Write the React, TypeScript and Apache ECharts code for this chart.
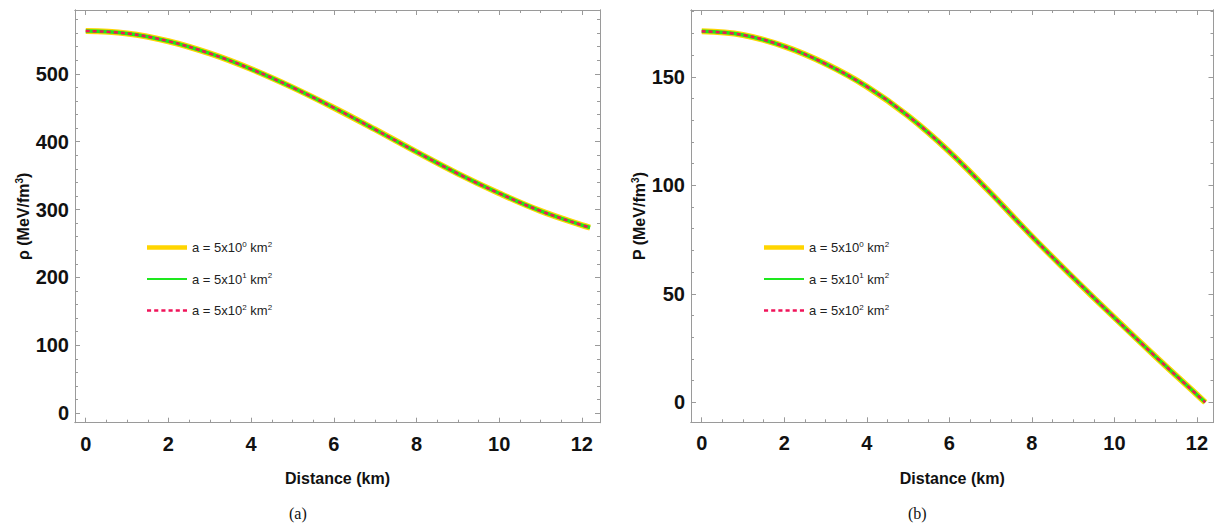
import React, { useEffect, useRef } from "react";
import * as echarts from "echarts";

const distance = [0, 1, 2, 3, 4, 5, 6, 7, 8, 9, 10, 11, 12, 12.2];
const rhoValues = [563, 559.5, 548, 530, 507, 480, 450, 418, 385, 353, 324, 298, 277, 273.5];
const pressureValues = [171, 169.3, 164, 156, 145.5, 132, 115.5, 96.5, 76.5, 57.5, 39, 21, 3.5, 0];

const seriesNames = ["a = 5x10^0 km^2", "a = 5x10^1 km^2", "a = 5x10^2 km^2"];

const xMajor = [0, 2, 4, 6, 8, 10, 12];
const xMinor = [0.5, 1, 1.5, 2.5, 3, 3.5, 4.5, 5, 5.5, 6.5, 7, 7.5, 8.5, 9, 9.5, 10.5, 11, 11.5];
const rhoMajor = [0, 100, 200, 300, 400, 500];
const pMajor = [0, 50, 100, 150];

function minorsOf(major: number[], step: number, lo: number, hi: number) {
  const out: number[] = [];
  for (let v = Math.ceil(lo / step) * step; v <= hi; v += step) {
    const r = Math.round(v * 1000) / 1000;
    if (!major.includes(r)) out.push(r);
  }
  return out;
}

const FRAME = "#9a9a9a";
const LABEL_FONT = "'Liberation Sans Narrow', 'Liberation Sans', Arial, sans-serif";

function axesFor(
  kind: "x" | "y",
  gridIndex: number,
  min: number,
  max: number,
  major: number[],
  minor: number[],
  name: string
) {
  const base = {
    type: "value",
    gridIndex,
    min,
    max,
    splitLine: { show: false },
    axisLine: { show: true, onZero: false, lineStyle: { color: FRAME, width: 1 } },
  };
  const pos1 = kind === "x" ? "bottom" : "left";
  const pos2 = kind === "x" ? "top" : "right";
  const main: any = {
    ...base,
    position: pos1,
    name,
    nameLocation: "middle",
    nameGap: kind === "x" ? 48 : 40,
    nameRotate: kind === "x" ? 0 : 90,
    nameTextStyle: {
      fontFamily: "'Liberation Sans', Arial, sans-serif",
      fontWeight: "bold",
      fontSize: 16,
      color: "#111",
      rich: {
        sup: { fontSize: 10, fontWeight: "bold", verticalAlign: "top", padding: [0, 0, 8, 0], color: "#111" },
      },
    },
    axisTick: { show: true, inside: true, length: 5, customValues: major, lineStyle: { color: FRAME } },
    axisLabel: {
      show: true,
      customValues: major,
      margin: kind === "x" ? 11 : 6,
      fontFamily: LABEL_FONT,
      fontWeight: "bold",
      fontSize: 20,
      color: "#111",
    },
  };
  const mk = (position: string, values: number[], len: number) => ({
    ...base,
    position,
    axisTick: { show: true, inside: true, length: len, customValues: values, lineStyle: { color: FRAME } },
    axisLabel: { show: false },
  });
  return [main, mk(pos1, minor, 3), mk(pos2, major, 5), mk(pos2, minor, 3)];
}

function supify(s: string) {
  return s.replace(/\^(\d)/g, "{sup|$1}");
}

function dashIcon(h: number) {
  let d = "path://";
  for (let x = 0; x < 40; x += 7) d += `M${x},0h4v${h}h-4Z`;
  return d;
}

export default function App() {
  const ref = useRef<HTMLDivElement>(null);
  useEffect(() => {
    document.body.style.margin = "0";
    if (!ref.current) return;
    const chart = echarts.init(ref.current, undefined, { renderer: "svg" });

    const colors = ["#ffd500", "#1ee81e", "#f0145a"];
    const widths = [6, 3.5, 2.5];
    const types: any[] = ["solid", "solid", [4, 3]];
    const legendIcons = ["path://M0,0H40V4.5H0Z", "path://M0,0H40V2.2H0Z", dashIcon(2.2)];

    const mkSeries = (gi: number, values: number[]) =>
      seriesNames.map((nm, i) => ({
        type: "line",
        name: nm,
        xAxisIndex: gi * 4,
        yAxisIndex: gi * 4,
        data: distance.map((d, k) => [d, values[k]]),
        smooth: 0.4,
        symbol: "none",
        showSymbol: false,
        lineStyle: { color: colors[i], width: widths[i], type: types[i] },
        itemStyle: { color: colors[i] },
        z: 2 + i,
      }));

    const mkLegend = (left: number) => ({
      orient: "vertical",
      left,
      top: 235,
      itemWidth: 40,
      itemHeight: 14,
      itemGap: 17.5,
      selectedMode: false,
      data: seriesNames.map((nm, i) => ({
        name: nm,
        icon: legendIcons[i],
        itemStyle: { color: colors[i], borderWidth: 0 },
      })),
      formatter: (n: string) => supify(n),
      textStyle: {
        fontFamily: LABEL_FONT,
        fontSize: 13,
        color: "#222",
        rich: {
          sup: { fontSize: 8, verticalAlign: "top", padding: [0, 0, 7, 0], color: "#222", fontFamily: LABEL_FONT },
        },
      },
    });

    const xAxes = [
      ...axesFor("x", 0, -0.26, 12.44, xMajor, xMinor, "Distance (km)"),
      ...axesFor("x", 1, -0.26, 12.4, xMajor, xMinor, "Distance (km)"),
    ];
    const yAxes = [
      ...axesFor("y", 0, -14, 594, rhoMajor, minorsOf(rhoMajor, 20, -14, 594), "ρ (MeV/fm{sup|3})"),
      ...axesFor("y", 1, -9.2, 180.8, pMajor, minorsOf(pMajor, 10, -9.2, 180.8), "P (MeV/fm{sup|3})"),
    ];

    chart.setOption({
      animation: false,
      backgroundColor: "#ffffff",
      grid: [
        { left: 75, top: 10, width: 525, height: 412.7 },
        { left: 691, top: 10, width: 522.5, height: 412.3 },
      ],
      xAxis: xAxes,
      yAxis: yAxes,
      legend: [mkLegend(142), mkLegend(759)],
      series: [...mkSeries(0, rhoValues), ...mkSeries(1, pressureValues)],
      graphic: [
        {
          type: "text",
          left: 289,
          top: 505,
          style: { text: "(a)", font: "16px 'Liberation Serif', 'Times New Roman', serif", fill: "#111" },
        },
        {
          type: "text",
          left: 908,
          top: 505,
          style: { text: "(b)", font: "16px 'Liberation Serif', 'Times New Roman', serif", fill: "#111" },
        },
      ],
    });
    return () => chart.dispose();
  }, []);
  return <div ref={ref} style={{ width: 1217, height: 528 }} />;
}
